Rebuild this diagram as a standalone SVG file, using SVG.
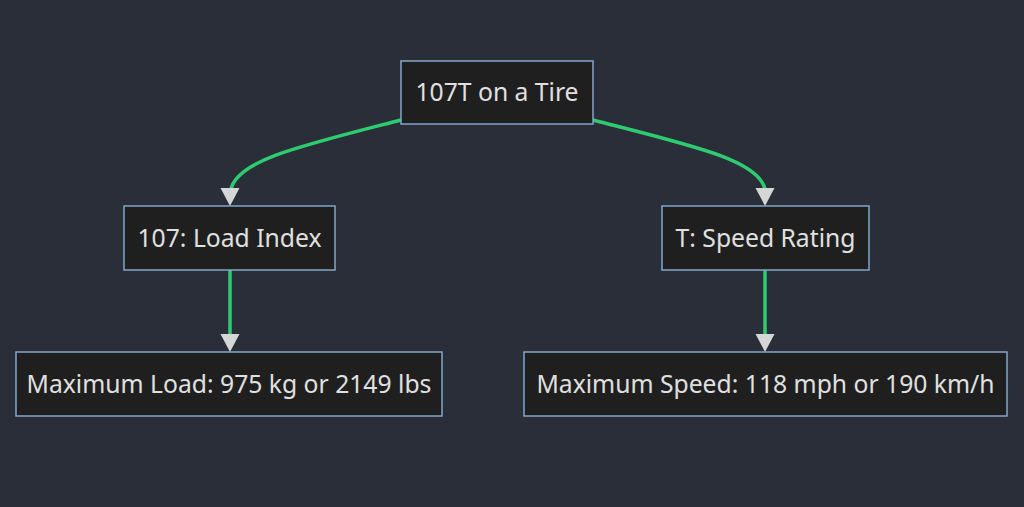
<svg xmlns="http://www.w3.org/2000/svg" width="1024" height="507" viewBox="0 0 1024 507">
<defs>
<style>
.node rect{fill:#1f1f1f;stroke:#81a6cc;stroke-width:1.5}
.node text{fill:#e0e0e0;font-family:"Noto Sans","Open Sans",sans-serif;font-size:24.7px;text-anchor:middle;dominant-baseline:central}
.edge{fill:none;stroke:#2ecc71;stroke-width:3.5}
</style>
</defs>
<rect width="1024" height="507" fill="#2a2e39"/>
<g id="connectors">
<path class="edge" d="M401,120 C300,146 238,160 231,189"/>
<path class="edge" d="M593,120 C694,146 758,160 765,189"/>
<path class="edge" d="M230,270 L230,335"/>
<path class="edge" d="M765,270 L765,335"/>
<g fill="#d6d6d6">
<path d="M220.5,188 L239.5,188 L230,206 Z"/>
<path d="M755.5,188 L774.5,188 L765,206 Z"/>
<path d="M220.5,334 L239.5,334 L230,352 Z"/>
<path d="M755.5,334 L774.5,334 L765,352 Z"/>
</g>
</g>
<g id="n1" class="node"><rect x="401" y="61" width="192" height="63"/><text x="497" y="91.5">107T on a Tire</text></g>
<g id="n2" class="node"><rect x="124" y="206" width="211" height="64"/><text x="229.5" y="237">107: Load Index</text></g>
<g id="n3" class="node"><rect x="662" y="206" width="207" height="64"/><text x="765.5" y="237">T: Speed Rating</text></g>
<g id="n4" class="node"><rect x="16" y="352" width="426" height="64"/><text x="229" y="383">Maximum Load: 975 kg or 2149 lbs</text></g>
<g id="n5" class="node"><rect x="524" y="352" width="483" height="64"/><text x="765.5" y="383">Maximum Speed: 118 mph or 190 km/h</text></g>
</svg>
